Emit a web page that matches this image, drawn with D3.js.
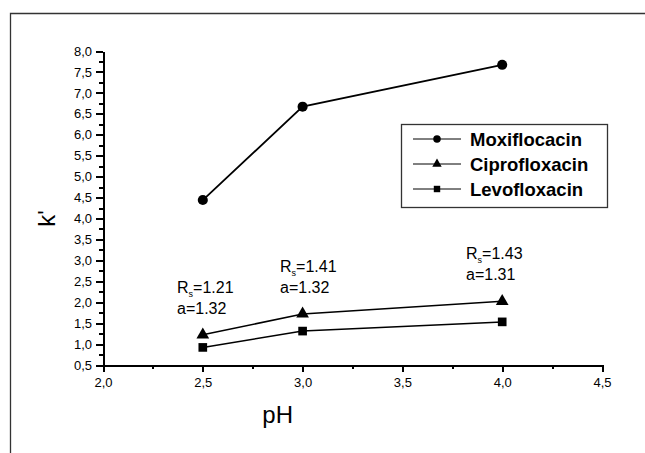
<!DOCTYPE html>
<html lang="en">
<head>
<meta charset="utf-8">
<title>k' vs pH</title>
<script src="https://d3js.org/d3.v7.min.js"></script>
<style>
  body { margin: 0; background: #fff; }
  svg { display: block; font-family: "Liberation Sans", Arial, sans-serif; }
  .axis path, .axis line { stroke: #000; shape-rendering: crispEdges; }
  .axis path { stroke-width: 2; fill: none; }
  .axis line { stroke-width: 2; }
  .axis text { font-size: 13px; fill: #000; }
</style>
</head>
<body>
<script>
// Data
var phValues = [2.5, 3.0, 4.0];
var moxiValues = [4.44, 6.67, 7.67];
var ciproValues = [1.22, 1.72, 2.02];
var levoValues = [0.92, 1.31, 1.53];
var seriesNames = ["Moxiflocacin", "Ciprofloxacin", "Levofloxacin"];
var xTicks = [2.0, 2.5, 3.0, 3.5, 4.0, 4.5];
var yTicks = [0.5, 1.0, 1.5, 2.0, 2.5, 3.0, 3.5, 4.0, 4.5, 5.0, 5.5, 6.0, 6.5, 7.0, 7.5, 8.0];
var resolutionLabels = ["1.21", "1.41", "1.43"];
var alphaLabels = ["1.32", "1.32", "1.31"];

var width = 645, height = 453;
var margin = {top: 51, right: 43, bottom: 88, left: 103};
var plot_w = width - margin.left - margin.right;
var plot_h = height - margin.top - margin.bottom;

var svg = d3.select("body").append("svg")
  .attr("width", width)
  .attr("height", height);

// outer frame (only top and left edges visible)
svg.append("path")
  .attr("d", "M10.5,453 L10.5,13.5 L645,13.5")
  .attr("fill", "none")
  .attr("stroke", "#333")
  .attr("stroke-width", 1.3);

var g = svg.append("g")
  .attr("transform", "translate(" + margin.left + "," + margin.top + ")");

var xScale = d3.scaleLinear().domain([2.0, 4.5]).range([0, plot_w]);
var yScale = d3.scaleLinear().domain([0.5, 8.0]).range([plot_h, 0]);

var comma = function(d) { return d3.format(".1f")(d).replace(".", ","); };

// minor ticks
g.append("g").attr("class", "axis")
  .attr("transform", "translate(0," + plot_h + ")")
  .call(d3.axisBottom(xScale).tickValues(d3.range(2.25, 4.5, 0.5)).tickSize(4).tickFormat(""))
  .select(".domain").remove();
g.append("g").attr("class", "axis")
  .call(d3.axisLeft(yScale).tickValues(d3.range(0.75, 8.0, 0.5)).tickSize(4).tickFormat(""))
  .select(".domain").remove();

// major axes
g.append("g").attr("class", "axis")
  .attr("transform", "translate(0," + plot_h + ")")
  .call(d3.axisBottom(xScale).tickValues(xTicks).tickSize(7).tickSizeOuter(0).tickPadding(6).tickFormat(comma));
g.append("g").attr("class", "axis")
  .call(d3.axisLeft(yScale).tickValues(yTicks).tickSize(7).tickSizeOuter(0).tickPadding(4).tickFormat(comma));

// axis titles
svg.append("text")
  .attr("x", margin.left + xScale(2.875))
  .attr("y", 423)
  .attr("text-anchor", "middle")
  .style("font-size", "24px")
  .text("pH");
svg.append("text")
  .attr("transform", "translate(55," + (margin.top + yScale(4.0)) + ") rotate(-90)")
  .attr("text-anchor", "middle")
  .style("font-size", "24px")
  .text("k'");

var line = d3.line()
  .x(function(d) { return xScale(d[0]); })
  .y(function(d) { return yScale(d[1]); });

var series = [
  {name: seriesNames[0], values: moxiValues, symbol: d3.symbolCircle, size: 80, lw: 1.8},
  {name: seriesNames[1], values: ciproValues, symbol: d3.symbolTriangle, size: 70, lw: 1.5},
  {name: seriesNames[2], values: levoValues, symbol: d3.symbolSquare, size: 75, lw: 1.5}
];

series.forEach(function(s) {
  var pts = phValues.map(function(p, i) { return [p, s.values[i]]; });
  g.append("path")
    .datum(pts)
    .attr("d", line)
    .attr("fill", "none")
    .attr("stroke", "#000")
    .attr("stroke-width", s.lw);
  g.selectAll(null)
    .data(pts)
    .enter().append("path")
    .attr("d", d3.symbol().type(s.symbol).size(s.size))
    .attr("transform", function(d) { return "translate(" + xScale(d[0]) + "," + yScale(d[1]) + ")"; })
    .attr("fill", "#000");
});

// Rs / alpha annotations
var annoPos = [[177, 293], [280, 272], [466, 259]];
annoPos.forEach(function(p, i) {
  var t = svg.append("text")
    .attr("x", p[0]).attr("y", p[1])
    .style("font-size", "16px");
  t.append("tspan").text("R");
  t.append("tspan").attr("dy", 4).style("font-size", "9px").text("s");
  t.append("tspan").attr("dy", -4).text("=" + resolutionLabels[i]);
  svg.append("text")
    .attr("x", p[0]).attr("y", p[1] + 21)
    .style("font-size", "16px")
    .text("a=" + alphaLabels[i]);
});

// legend
var legend = svg.append("g").attr("transform", "translate(401,124)");
legend.append("rect")
  .attr("x", 0.5).attr("y", 0.5)
  .attr("width", 206).attr("height", 83)
  .attr("fill", "#fff")
  .attr("stroke", "#333")
  .attr("stroke-width", 1.3);
series.forEach(function(s, i) {
  var row = legend.append("g").attr("transform", "translate(0," + (15 + i * 25) + ")");
  row.append("line")
    .attr("x1", 12).attr("x2", 60)
    .attr("stroke", "#000").attr("stroke-width", 1);
  row.append("path")
    .attr("d", d3.symbol().type(s.symbol).size(s.size * 0.55))
    .attr("transform", "translate(36,0)")
    .attr("fill", "#000");
  row.append("text")
    .attr("x", 69).attr("y", 7)
    .style("font-size", "18.5px")
    .style("font-weight", "bold")
    .text(s.name);
});
</script>
</body>
</html>
